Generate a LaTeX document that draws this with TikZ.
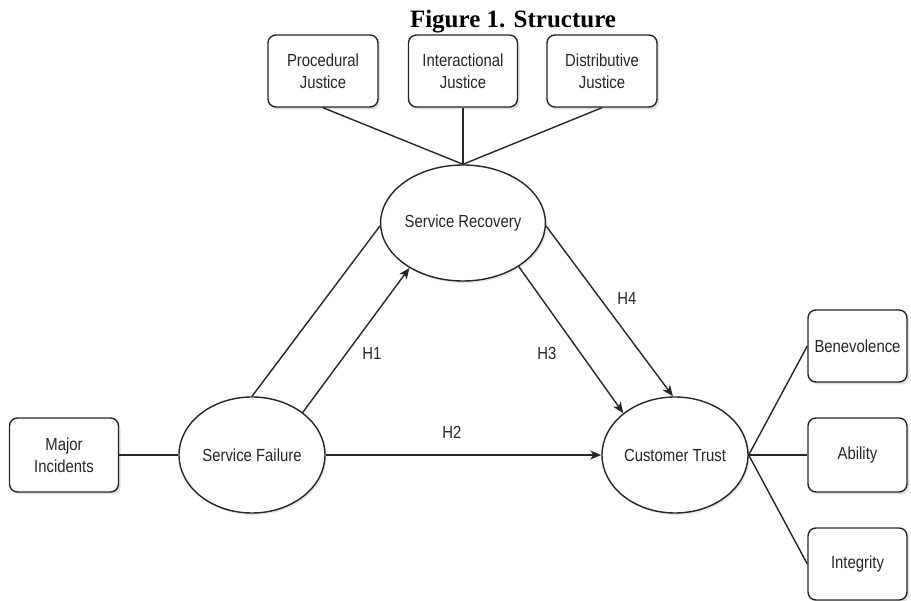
\documentclass[tikz,border=0pt]{standalone}
\usepackage{fontspec}
\usetikzlibrary{arrows.meta,shapes.geometric,shadows}
\newfontfamily\lab[FakeStretch=0.85]{Liberation Sans}
\newfontfamily\ttl{Liberation Serif}
\begin{document}
\begin{tikzpicture}[x=1pt,y=-1pt,
  every node/.style={text=black!85},
  lbl/.style={font=\lab\fontsize{17.5}{22}\selectfont},
  rbox/.style={lbl,draw=black!85,line width=1.4pt,rounded corners=8pt,fill=white,align=center,
    drop shadow={shadow xshift=2pt,shadow yshift=-2.5pt,opacity=0.25},inner sep=0pt},
  oval/.style={lbl,ellipse,draw=black!85,line width=1.4pt,fill=white,minimum width=146pt,minimum height=116pt,inner sep=0pt,
    drop shadow={shadow xshift=1.5pt,shadow yshift=-2pt,opacity=0.2}},
  con/.style={line width=1.4pt,draw=black!85},
  arr/.style={con,-{Stealth[length=11pt,width=9pt,inset=3pt]}}]
\useasboundingbox (0,0) rectangle (911,601);
\node[font=\ttl\bfseries\fontsize{25}{28}\selectfont,anchor=base,text=black] (title) at (513,28) {Figure 1. Structure};
% top boxes
\node[rbox,minimum width=110pt,minimum height=72pt] (pj) at (323,71) {Procedural\\Justice};
\node[rbox,minimum width=109pt,minimum height=72pt] (ij) at (463,71) {Interactional\\Justice};
\node[rbox,minimum width=110pt,minimum height=72pt] (dj) at (602,71) {Distributive\\Justice};
% ellipses
\node[oval] (sr) at (463,223) {Service Recovery};
\node[oval] (sf) at (252,455) {Service Failure};
\node[oval] (ct) at (675,455) {Customer Trust};
% left box
\node[rbox,minimum width=109pt,minimum height=74pt] (mi) at (64,455) {Major\\Incidents};
% right boxes
\node[rbox,minimum width=99pt,minimum height=72pt] (be) at (857.5,346) {Benevolence};
\node[rbox,minimum width=99pt,minimum height=74pt] (ab) at (857.5,455) {Ability};
\node[rbox,minimum width=99pt,minimum height=72pt] (in) at (857.5,564) {Integrity};
% connectors
\draw[con] (pj.south) -- (sr.north);
\draw[con] (ij.south) -- (sr.north);
\draw[con] (dj.south) -- (sr.north);
\draw[con] (mi.east) -- (sf.west);
\draw[con] (sf.north) -- (sr.182);
\draw[arr] (sf.40) -- (sr.220);
\draw[arr] (sf.east) -- (ct.west);
\draw[arr] (sr.322) -- (ct.141);
\draw[arr] (sr.358) -- (ct.92);
\draw[con] (ct.east) -- (be.west);
\draw[con] (ct.east) -- (ab.west);
\draw[con] (ct.east) -- (in.west);
% labels
\node[lbl] (h1) at (372,353) {H1};
\node[lbl] (h2) at (452,432) {H2};
\node[lbl] (h3) at (547,353) {H3};
\node[lbl] (h4) at (627,298) {H4};
\end{tikzpicture}
\end{document}
